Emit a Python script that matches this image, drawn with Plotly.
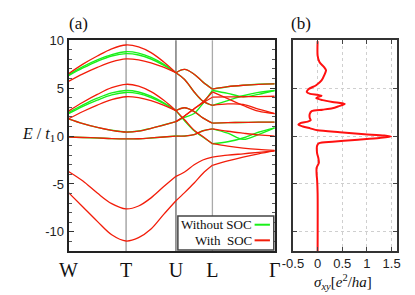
import plotly.graph_objects as go

# ---------------- data ----------------
# k-path sample positions (W .. T .. U .. L .. Gamma)
K_POINTS = [0, 15, 30, 45, 60, 73, 86, 99, 112, 121, 131, 140, 150, 166, 182, 198, 215]
SYM_POS = [0, 60, 112, 150, 215]
SYM_LABELS = ["W", "T", "U", "L", "Γ"]

# bands with SOC (red), energies E/t1 at K_POINTS
soc_A = [6.5, 7.5, 8.35, 9.1, 9.5, 9.3, 8.7, 7.75, 6.6, 6.95, 6.45, 5.65, 4.9, 5.15, 5.3, 5.4, 5.45]
soc_B = [5.7, 6.48, 7.16, 7.74, 8.05, 7.95, 7.64, 7.18, 6.6, 5.9, 4.6, 3.65, 3.2, 3.35, 3.3, 2.8, 2.35]
soc_C1 = [1.8, 1.3, 0.9, 0.6, 0.42, 0.52, 0.8, 1.15, 1.5, 2.1, 2.85, 3.55, 4.6, 3.9, 3.2, 2.6, 2.35]
soc_C2 = [None] * 8 + [1.5, 2.1, 2.85, 3.45, 4.05, 4.08, 4.1, 4.12, 4.15]
soc_S1 = [2.6, 3.52, 4.34, 5.04, 5.4, 5.21, 4.63, 3.75, 2.65, 2.95, 2.55, 1.9, 1.35, 1.4, 1.42, 1.45, 1.45]
soc_S2 = [1.8, 2.56, 3.23, 3.8, 4.1, 4.0, 3.69, 3.23, 2.65, 1.7, 0.6, -0.05, -0.8, -1.05, -1.25, -1.4, -1.5]
soc_F = [-0.1, -0.15, -0.2, -0.27, -0.3, -0.28, -0.2, -0.1, 0.0, 0.0, 0.15, 0.55, 0.75, 0.5, 0.3, 0.12, 0.0]
soc_L1 = [-3.7, -4.7, -5.95, -7.05, -7.6, -7.3, -6.45, -5.3, -4.2, -3.75, -3.0, -2.5, -2.2, -2.0, -1.85, -1.7, -1.55]
soc_L2 = [-5.9, -7.4, -8.9, -10.3, -10.95, -10.6, -9.7, -8.2, -6.75, -5.9, -4.9, -3.9, -3.05, -2.6, -2.2, -1.85, -1.55]

# bands without SOC (green)
nosoc_A = [6.4, 7.25, 7.95, 8.5, 8.8, 8.65, 8.2, 7.5, 6.6, 6.95, 6.45, 5.65, 4.9, 5.15, 5.3, 5.4, 5.45]
nosoc_B = [6.3, 7.1, 7.8, 8.35, 8.6, 8.46, 8.04, 7.4, 6.6, 5.9, 4.6, 3.65, 3.2, 3.7, 4.2, 4.55, 4.75]
nosoc_C = [1.8, 1.3, 0.9, 0.6, 0.42, 0.52, 0.8, 1.15, 1.5, 1.95, 2.35, 3.4, 4.75, 4.45, 4.1, 4.35, 4.75]
nosoc_S1 = [2.45, 3.25, 3.95, 4.5, 4.75, 4.6, 4.16, 3.49, 2.65, 2.95, 2.55, 1.9, 1.35, 1.4, 1.42, 1.45, 1.45]
nosoc_S2 = [2.35, 3.1, 3.75, 4.3, 4.55, 4.42, 4.02, 3.41, 2.65, 1.6, 0.55, -0.1, -0.8, -0.6, -0.2, 0.4, 0.85]
nosoc_F = [-0.1, -0.15, -0.2, -0.27, -0.3, -0.28, -0.2, -0.1, 0.0, 0.0, 0.15, 0.55, 0.75, 0.3, -0.35, 0.15, 0.85]

# Hall conductivity sigma_xy [e^2/ha] vs energy E/t1
sigma_E = [9.9, 8.4, 7.7, 7.2, 6.85, 6.4, 5.8, 5.3, 4.9, 4.6, 4.4, 4.3, 4.2, 4.05, 3.95,
           3.75, 3.55, 3.35, 3.1, 2.9, 2.75, 2.6, 2.3, 1.9, 1.65, 1.5, 1.35, 1.2, 1.0, 0.8,
           0.6, 0.4, 0.2, 0.05, -0.05, -0.2, -0.4, -0.6, -0.75, -1.0, -1.8, -2.3, -2.8,
           -3.3, -4.0, -4.6, -6.0, -12.0]
sigma_xy = [0.0, 0.0, 0.04, 0.13, 0.17, 0.14, 0.08, -0.03, -0.18, -0.22, -0.15, 0.0, 0.08, 0.0, -0.03,
            0.1, 0.3, 0.55, 0.42, 0.3, 0.1, -0.12, -0.16, -0.16, -0.14, -0.2, -0.35, -0.39, -0.3, -0.15,
            0.0, 0.45, 0.95, 1.35, 1.49, 1.25, 0.75, 0.3, 0.03, -0.01, -0.01, 0.015, 0.025,
            -0.02, -0.02, -0.01, 0.0, 0.0]

SIG_TICKS = [-0.5, 0, 0.5, 1, 1.5]
SIG_TICKTEXT = ["-0.5", "0", "0.5", "1", "1.5"]
E_TICKS = [-10, -5, 0, 5, 10]
E_TICKTEXT = ["-10", "-5", "0", "5", "10"]

# ---------------- figure ----------------
RED = "#f21d0a"
GREEN = "#19f019"
W, H = 415, 295
SEGMENTS = [(0, 9), (8, 13), (12, 17)]


def band_xy(vals):
    xs, ys = [], []
    for a, b in SEGMENTS:
        sv = vals[a:b]
        if any(v is None for v in sv):
            continue
        xs += K_POINTS[a:b] + [None]
        ys += sv + [None]
    return xs, ys


fig = go.Figure()

for vals in [nosoc_A, nosoc_B, nosoc_C, nosoc_S1, nosoc_S2, nosoc_F]:
    x, y = band_xy(vals)
    fig.add_trace(go.Scatter(x=x, y=y, mode="lines", xaxis="x", yaxis="y",
                             line=dict(color=GREEN, width=1.4, shape="spline", smoothing=1.0),
                             connectgaps=False, showlegend=False, hoverinfo="skip"))
for vals in [soc_A, soc_B, soc_C1, soc_C2, soc_S1, soc_S2, soc_F, soc_L1, soc_L2]:
    x, y = band_xy(vals)
    fig.add_trace(go.Scatter(x=x, y=y, mode="lines", xaxis="x", yaxis="y",
                             line=dict(color=RED, width=1.3, shape="spline", smoothing=1.0),
                             connectgaps=False, showlegend=False, hoverinfo="skip"))

fig.add_trace(go.Scatter(x=sigma_xy, y=sigma_E, mode="lines", xaxis="x2", yaxis="y2",
                         line=dict(color="#ff1010", width=2, shape="spline", smoothing=0.7),
                         showlegend=False, hoverinfo="skip"))

xd1 = [60 / W, 275 / W]
xd2 = [294 / W, 402 / W]
yd = [1 - 250 / H, 1 - 34 / H]

sans = "Liberation Sans, Arial, sans-serif"
serif = "Liberation Serif, Times New Roman, serif"

fig.update_layout(
    width=W, height=H, margin=dict(l=0, r=0, t=0, b=0),
    paper_bgcolor="white", plot_bgcolor="white", showlegend=False,
    xaxis=dict(domain=xd1, range=[SYM_POS[0], SYM_POS[-1]], tickvals=SYM_POS, ticktext=SYM_LABELS,
               showgrid=False, zeroline=False, showline=True, linecolor="#222", linewidth=2,
               mirror=True, ticks="", tickfont=dict(family=serif, size=20, color="#111"),
               anchor="y"),
    yaxis=dict(domain=yd, range=[-12, 10], tickvals=E_TICKS, ticktext=E_TICKTEXT,
               showgrid=False, zeroline=False, showline=True, linecolor="#222", linewidth=2,
               mirror="ticks", ticks="inside", ticklen=5, tickcolor="#333",
               minor=dict(ticks="inside", ticklen=3, dtick=1, tickcolor="#555"),
               tickfont=dict(family=sans, size=13, color="#222"), anchor="x"),
    xaxis2=dict(domain=xd2, range=[-0.5, 1.6], tickvals=SIG_TICKS, ticktext=SIG_TICKTEXT,
                showgrid=True, gridcolor="#cfcfcf", griddash="dot", gridwidth=1,
                zeroline=False, showline=True, linecolor="#333", linewidth=1.5,
                mirror="ticks", ticks="inside", ticklen=4, tickcolor="#444",
                tickfont=dict(family=sans, size=13, color="#222"), anchor="y2"),
    yaxis2=dict(domain=yd, range=[-12, 10], tickvals=E_TICKS, showticklabels=False,
                showgrid=True, gridcolor="#cfcfcf", griddash="dot", gridwidth=1,
                zeroline=False, showline=True, linecolor="#333", linewidth=1.5,
                mirror="ticks", ticks="inside", ticklen=4, tickcolor="#444", anchor="x2"),
)

# vertical high-symmetry lines
for pos, col in zip(SYM_POS[1:4], ["#9a9a9a", "#666666", "#aaaaaa"]):
    fig.add_shape(type="line", xref="x", yref="y domain", x0=pos, x1=pos, y0=0, y1=1,
                  line=dict(color=col, width=1.3), layer="below")


def txt(text, px, py, size, family=serif, xanchor="center"):
    return dict(text=text, x=px / W, y=1 - py / H, xref="paper", yref="paper",
                xanchor=xanchor, yanchor="middle", showarrow=False,
                font=dict(family=family, size=size, color="#111"))


ann = [
    txt("(a)", 70, 17, 17),
    txt("(b)", 302, 17, 17),
    txt("<i>E</i> / <i>t</i><sub>1</sub>", 48, 131, 16, xanchor="right"),
    txt("<i>σ<sub>xy</sub></i>[<i>e</i><sup>2</sup>/<i>ha</i>]", 346, 282, 15),
    txt("Without SOC", 253, 223, 13, xanchor="right"),
    txt("With", 190, 239, 13, xanchor="left"),
    txt("SOC", 253, 239, 13, xanchor="right"),
]

# legend box (text left, line sample right)
fig.add_shape(type="rect", xref="paper", yref="paper", x0=174 / W, x1=274 / W,
              y0=1 - 249 / H, y1=1 - 214 / H, line=dict(color="#444", width=1.5),
              fillcolor="white", layer="above")
fig.add_shape(type="line", xref="paper", yref="paper", x0=254 / W, x1=270 / W,
              y0=1 - 223 / H, y1=1 - 223 / H, line=dict(color=GREEN, width=2))
fig.add_shape(type="line", xref="paper", yref="paper", x0=254 / W, x1=270 / W,
              y0=1 - 239 / H, y1=1 - 239 / H, line=dict(color=RED, width=2))
fig.update_layout(annotations=ann)

fig.write_html("out.html", config={"displayModeBar": False},
               post_script="document.body.style.margin='0';")
